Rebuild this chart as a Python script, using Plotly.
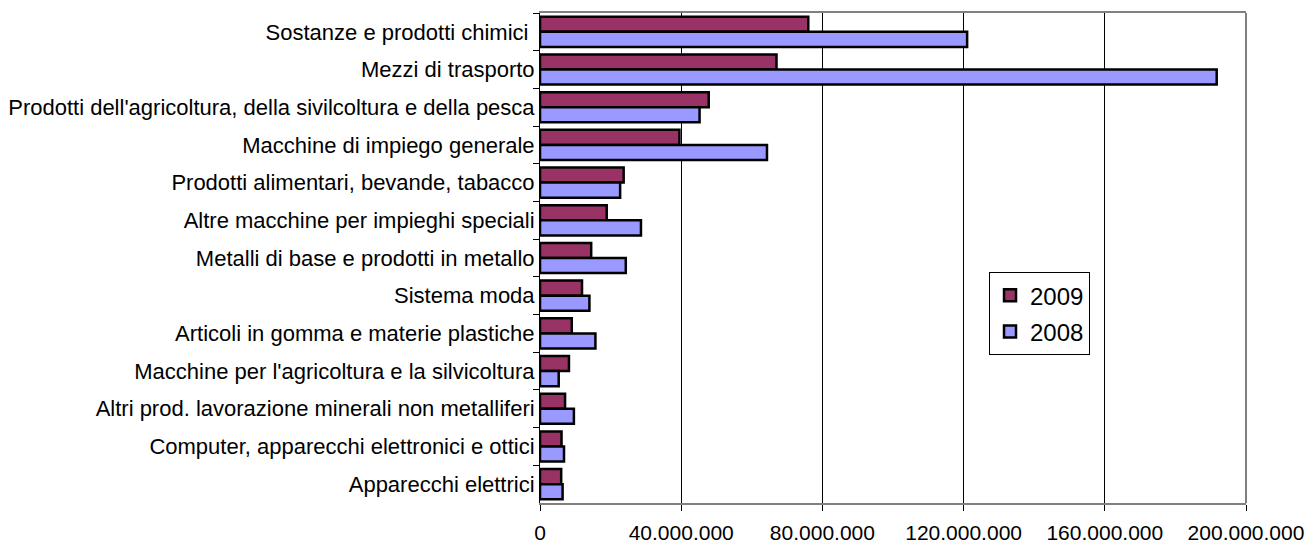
import plotly.graph_objects as go

categories = [
    "Sostanze e prodotti chimici\u00a0",
    "Mezzi di trasporto",
    "Prodotti dell'agricoltura, della sivilcoltura e della pesca",
    "Macchine di impiego generale",
    "Prodotti alimentari, bevande, tabacco",
    "Altre macchine per impieghi speciali",
    "Metalli di base e prodotti in metallo",
    "Sistema moda",
    "Articoli in gomma e materie plastiche",
    "Macchine per l'agricoltura e la silvicoltura",
    "Altri prod. lavorazione minerali non metalliferi",
    "Computer, apparecchi elettronici e ottici",
    "Apparecchi elettrici",
]
values_2009 = [76_000_000, 67_000_000, 47_800_000, 39_500_000, 23_700_000, 18_900_000,
               14_500_000, 11_900_000, 9_000_000, 8_200_000, 7_100_000, 6_100_000, 6_000_000]
values_2008 = [121_000_000, 191_700_000, 45_200_000, 64_300_000, 22_700_000, 28_600_000,
               24_300_000, 14_000_000, 15_700_000, 5_300_000, 9_600_000, 6_800_000, 6_400_000]
x_ticks = [0, 40_000_000, 80_000_000, 120_000_000, 160_000_000, 200_000_000]

FONT = "Liberation Sans, Arial, sans-serif"

fig = go.Figure()
fig.add_trace(go.Bar(
    y=categories, x=values_2009, name="2009", orientation="h",
    marker=dict(color="#993366", line=dict(color="black", width=2.5)),
    legendgroup="a",
))
fig.add_trace(go.Bar(
    y=categories, x=values_2008, name="2008", orientation="h",
    marker=dict(color="#9999FF", line=dict(color="black", width=2.5)),
    legendgroup="b",
))

fig.update_layout(
    width=1308, height=545,
    margin=dict(l=540, r=62, t=13, b=42),
    paper_bgcolor="white", plot_bgcolor="white",
    barmode="group", bargap=0.2, bargroupgap=0,
    separators=",.",
    font=dict(family=FONT, size=22, color="black"),
    legend=dict(
        x=0.636, y=0.471, xanchor="left", yanchor="top",
        bgcolor="white", bordercolor="black", borderwidth=1,
        font=dict(family=FONT, size=24, color="black"),
        traceorder="grouped", tracegroupgap=2,
    ),
    xaxis=dict(
        range=[0, 200_000_000], tickvals=x_ticks, tickformat=",d",
        showgrid=True, gridcolor="black", gridwidth=1,
        zeroline=False, automargin=False,
        showline=True, linecolor="#808080", linewidth=2, mirror=True,
        ticks="outside", ticklen=6, tickcolor="black",
        ticklabelstandoff=4,
        tickfont=dict(family=FONT, size=21, color="black"),
    ),
    yaxis=dict(
        autorange="reversed", type="category", automargin=False,
        showgrid=False, zeroline=False,
        showline=True, linecolor="black", linewidth=1,
        ticks="outside", ticklen=6, tickcolor="black", tickson="boundaries",
        tickfont=dict(family=FONT, size=22, color="black"),
    ),
    shapes=[dict(type="line", xref="paper", yref="paper", x0=1, x1=1, y0=0, y1=1,
                 line=dict(color="#808080", width=2))],
)

fig.write_html("out.html")
